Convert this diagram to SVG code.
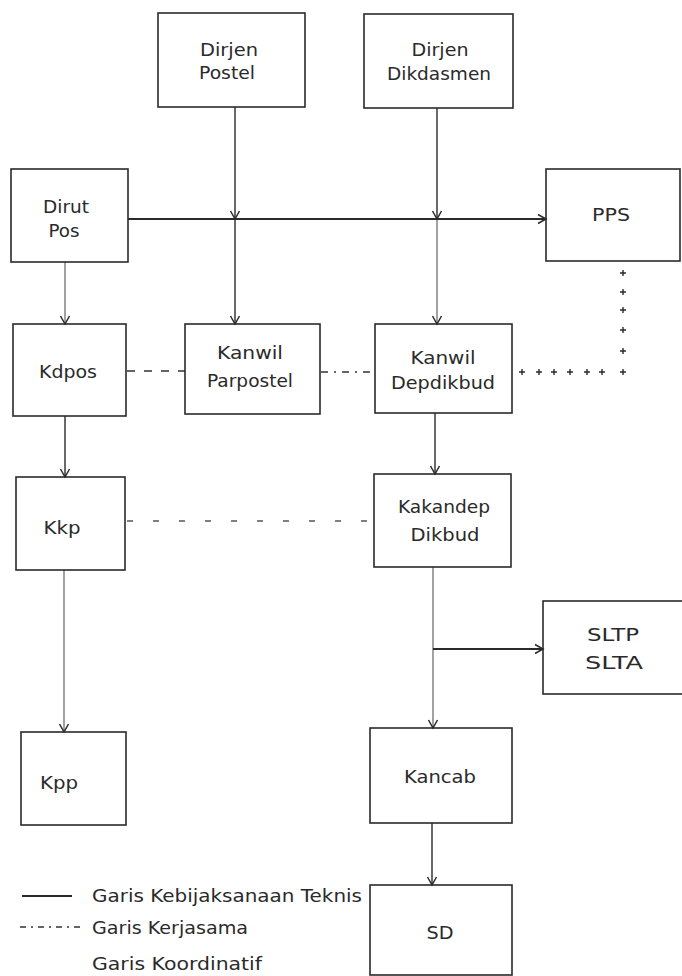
<svg xmlns="http://www.w3.org/2000/svg" width="682" height="976" viewBox="0 0 682 976">
<style>
.box{fill:none;stroke:#2a2a2a;stroke-width:1.6}
.t{font-family:"DejaVu Sans","Liberation Sans",sans-serif;font-size:18px;fill:#2a2a2a;text-anchor:middle}
.lt{font-family:"DejaVu Sans","Liberation Sans",sans-serif;font-size:18px;fill:#2a2a2a}
.s{fill:none;stroke:#2a2a2a;stroke-width:1.4}
.sf{fill:none;stroke:#555;stroke-width:1.1}
.dash{fill:none;stroke:#333;stroke-width:1.5;stroke-dasharray:8 9}
.dashdot{fill:none;stroke:#333;stroke-width:1.5;stroke-dasharray:7 6 2 6}
.sparse{fill:none;stroke:#555;stroke-width:1.3;stroke-dasharray:6 20}
.plus{fill:none;stroke:none}
</style>
<defs>
<marker id="arr" viewBox="-10 -6 12 12" refX="0" refY="0" markerWidth="12" markerHeight="12" markerUnits="userSpaceOnUse" orient="auto" overflow="visible">
<path d="M-8,-4.5 L0,0 L-8,4.5" fill="none" stroke="#2a2a2a" stroke-width="1.5"/>
</marker>
<marker id="pl" viewBox="-4 -4 8 8" refX="0" refY="0" markerWidth="8" markerHeight="8" markerUnits="userSpaceOnUse" orient="0" overflow="visible">
<path d="M-3,0 H3 M0,-3 V3" fill="none" stroke="#2a2a2a" stroke-width="1.4"/>
</marker>
</defs>
<rect width="682" height="976" fill="#fff"/>

<g id="connectors">
<path class="s" d="M235,107 V219" marker-end="url(#arr)"/>
<path class="s" d="M235,219 V324" marker-end="url(#arr)"/>
<path class="s" d="M437,108 V219" marker-end="url(#arr)"/>
<path class="sf" d="M437,219 V324" marker-end="url(#arr)"/>
<path class="s" style="stroke-width:2" d="M128,219 H546" marker-end="url(#arr)"/>
<path class="sf" d="M65,262 V324" marker-end="url(#arr)"/>
<path class="s" d="M65,416 V477" marker-end="url(#arr)"/>
<path class="sf" d="M64,570 V732" marker-end="url(#arr)"/>
<path class="s" d="M435,413 V474" marker-end="url(#arr)"/>
<path class="sf" d="M433,567 V728" marker-end="url(#arr)"/>
<path class="s" style="stroke-width:1.8" d="M433,649 H543" marker-end="url(#arr)"/>
<path class="s" d="M432,823 V885" marker-end="url(#arr)"/>
<path class="dash" d="M127,371 H185"/>
<path class="dashdot" d="M321,372 H375"/>
<path class="sparse" d="M127,521 H374"/>
<polyline class="plus" points="522,372 539,372 554,372 570,372 587,372 602,372 623,372 623,351 623,330 623,310 623,292 623,273" marker-start="url(#pl)" marker-mid="url(#pl)" marker-end="url(#pl)"/>
</g>

<g id="dirjen-postel"><rect class="box" x="158" y="13" width="147" height="94"/>
<text class="t" x="229" y="56" textLength="58" lengthAdjust="spacingAndGlyphs">Dirjen</text>
<text class="t" x="227" y="79" textLength="56" lengthAdjust="spacingAndGlyphs">Postel</text></g>

<g id="dirjen-dikdasmen"><rect class="box" x="364" y="14" width="149" height="94"/>
<text class="t" x="440" y="56" textLength="57" lengthAdjust="spacingAndGlyphs">Dirjen</text>
<text class="t" x="439" y="80" textLength="104" lengthAdjust="spacingAndGlyphs">Dikdasmen</text></g>

<g id="dirut-pos"><rect class="box" x="11" y="169" width="117" height="93"/>
<text class="t" x="66" y="213" textLength="46" lengthAdjust="spacingAndGlyphs">Dirut</text>
<text class="t" x="64" y="237" textLength="31" lengthAdjust="spacingAndGlyphs">Pos</text></g>

<g id="pps"><rect class="box" x="546" y="169" width="134" height="92"/>
<text class="t" x="611" y="221" textLength="38" lengthAdjust="spacingAndGlyphs">PPS</text></g>

<g id="kdpos"><rect class="box" x="13" y="324" width="113" height="92"/>
<text class="t" x="68" y="378" textLength="58" lengthAdjust="spacingAndGlyphs">Kdpos</text></g>

<g id="kanwil-parpostel"><rect class="box" x="185" y="324" width="135" height="90"/>
<text class="t" x="250" y="359" textLength="66" lengthAdjust="spacingAndGlyphs">Kanwil</text>
<text class="t" x="250" y="387" textLength="86" lengthAdjust="spacingAndGlyphs">Parpostel</text></g>

<g id="kanwil-depdikbud"><rect class="box" x="375" y="324" width="137" height="89"/>
<text class="t" x="443" y="364" textLength="65" lengthAdjust="spacingAndGlyphs">Kanwil</text>
<text class="t" x="443" y="389" textLength="104" lengthAdjust="spacingAndGlyphs">Depdikbud</text></g>

<g id="kkp"><rect class="box" x="16" y="477" width="109" height="93"/>
<text class="t" x="62" y="534" textLength="37" lengthAdjust="spacingAndGlyphs">Kkp</text></g>

<g id="kakandep-dikbud"><rect class="box" x="374" y="474" width="137" height="93"/>
<text class="t" x="444" y="513" textLength="92" lengthAdjust="spacingAndGlyphs">Kakandep</text>
<text class="t" x="445" y="541" textLength="69" lengthAdjust="spacingAndGlyphs">Dikbud</text></g>

<g id="sltp-slta"><rect class="box" x="543" y="601" width="140" height="93"/>
<text class="t" x="613" y="641" textLength="52" lengthAdjust="spacingAndGlyphs">SLTP</text>
<text class="t" x="614" y="669" textLength="58" lengthAdjust="spacingAndGlyphs">SLTA</text></g>

<g id="kpp"><rect class="box" x="21" y="732" width="105" height="93"/>
<text class="t" x="59" y="789" textLength="38" lengthAdjust="spacingAndGlyphs">Kpp</text></g>

<g id="kancab"><rect class="box" x="370" y="728" width="142" height="95"/>
<text class="t" x="440" y="783" textLength="72" lengthAdjust="spacingAndGlyphs">Kancab</text></g>

<g id="sd"><rect class="box" x="370" y="885" width="142" height="90"/>
<text class="t" x="440" y="939" textLength="27" lengthAdjust="spacingAndGlyphs">SD</text></g>

<g id="legend">
<path class="s" style="stroke-width:1.8" d="M22,896 H72"/>
<path fill="none" stroke="#333" stroke-width="1.6" stroke-dasharray="6 5 2 5" d="M20,927 H83"/>
<text class="lt" x="92" y="902" textLength="270" lengthAdjust="spacingAndGlyphs">Garis Kebijaksanaan Teknis</text>
<text class="lt" x="92" y="934" textLength="156" lengthAdjust="spacingAndGlyphs">Garis Kerjasama</text>
<text class="lt" x="92" y="970" textLength="170" lengthAdjust="spacingAndGlyphs">Garis Koordinatif</text>
</g>
</svg>
